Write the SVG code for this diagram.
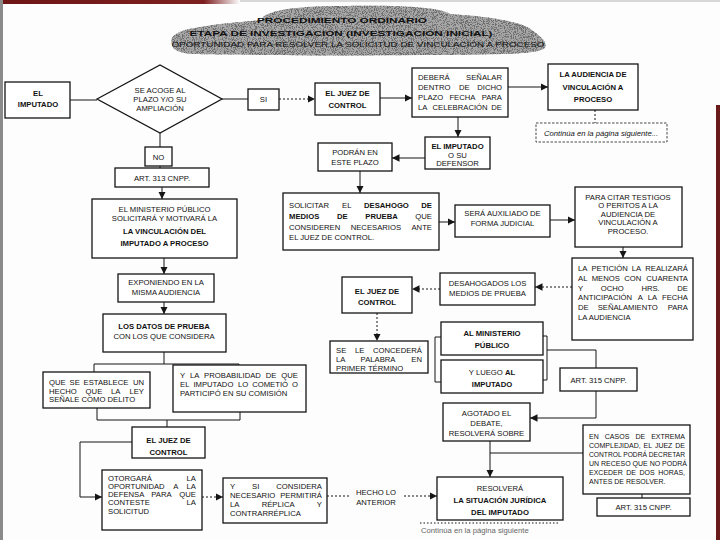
<svg xmlns="http://www.w3.org/2000/svg" width="720" height="540" viewBox="0 0 720 540">
<defs>
<style>
.b{fill:#fff;stroke:#151515;stroke-width:1.3}
.t{font-family:"Liberation Sans",Arial,sans-serif;font-size:7.7px;fill:#111}
.bd{font-weight:bold}
.c{text-anchor:middle}
.e{text-anchor:end}
.m{text-anchor:middle}
.ln{stroke:#151515;stroke-width:1;fill:none}
.ds{stroke-dasharray:2 2}
.ar{marker-end:url(#ah)}
.s7{font-size:7px}
</style>
<marker id="ah" viewBox="0 0 10 10" refX="10" refY="5" markerWidth="7.5" markerHeight="7.5" orient="auto" markerUnits="userSpaceOnUse"><path d="M0,0 L10,5 L0,10 z" fill="#151515"/></marker>
<linearGradient id="topred" x1="0" y1="0" x2="1" y2="0"><stop offset="0" stop-color="#6e1515"/><stop offset="0.85" stop-color="#7e2020"/><stop offset="1" stop-color="#7e2020" stop-opacity="0"/></linearGradient>
<clipPath id="blob"><path d="M172,44 C168,36 180,30 195,28 C215,24 240,22 262,20 C262,12 290,6 340,6 C400,5 440,7 450,14 C480,16 520,20 532,30 C540,36 548,42 545,48 C540,54 500,55 420,55 C330,56 240,55 190,54 C178,52 172,50 172,44 Z"/></clipPath>
<filter id="speck" x="0" y="0" width="100%" height="100%"><feTurbulence type="fractalNoise" baseFrequency="1.1" numOctaves="2" seed="4"/><feColorMatrix type="matrix" values="0 0 0 0 0.15  0 0 0 0 0.15  0 0 0 0 0.15  0 0 0 7 -3.3"/></filter>
</defs>
<rect x="0" y="0" width="720" height="540" fill="#fdfdfd"/>
<rect x="0" y="0" width="240" height="4" fill="url(#topred)"/>
<rect x="240" y="0" width="480" height="2" fill="#d8d8d8"/>
<rect x="0" y="0" width="3" height="540" fill="#8a8a8a"/>
<rect x="716" y="105" width="4" height="435" fill="#6b1a1a"/>

<g id="title">
<g clip-path="url(#blob)"><rect x="165" y="0" width="390" height="60" fill="#a8a8a8"/><rect x="165" y="0" width="390" height="60" filter="url(#speck)"/></g>
<text class="t bd c" x="342" y="23" font-size="10.5" textLength="170" lengthAdjust="spacingAndGlyphs">PROCEDIMIENTO ORDINARIO</text>
<text class="t bd c" x="341" y="36" font-size="10" textLength="303" lengthAdjust="spacingAndGlyphs">ETAPA DE INVESTIGACIÓN (INVESTIGACIÓN INICIAL)</text>
<text class="t c" x="358" y="47" font-size="9.3" textLength="373" lengthAdjust="spacingAndGlyphs">OPORTUNIDAD PARA RESOLVER LA SOLICITUD DE VINCULACIÓN A PROCESO</text>
</g>

<g id="connectors">
<path class="ln" d="M70,100 H97"/>
<path class="ln" d="M222,99 H248"/>
<path class="ln ds ar" d="M279,99 H315"/>
<path class="ln ar" d="M380,98 H412"/>
<path class="ln ar" d="M508,87 H548"/>
<path class="ln ds" d="M595,110 V123"/>
<path class="ln ar" d="M458,117 V137"/>
<path class="ln ar" d="M425,158 H392"/>
<path class="ln ar" d="M360,171 V193"/>
<path class="ln ar" d="M439,222 H455"/>
<path class="ln ar" d="M550,220 H575"/>
<path class="ln ar" d="M623,247 V258"/>
<path class="ln ds ar" d="M572,287 H535"/>
<path class="ln ds ar" d="M440,289 H412"/>
<path class="ln ds ar" d="M377,313 V341"/>
<path class="ln" d="M441,337 H435 V382 H441"/>
<path class="ln" d="M543,336 H547 V380 H543"/>
<path class="ln" d="M547,350 H596 V368"/>
<path class="ln ar" d="M596,391 V418 H530"/>
<path class="ln ar" d="M490,441 V477"/>
<path class="ln" d="M490,453 H583"/>
<path class="ln" d="M642,494 V498"/>
<path class="ln ds" d="M327,496 H350"/>
<path class="ln ds ar" d="M404,496 H437"/>
<path class="ln" d="M420,523 H560" stroke="#555" stroke-dasharray="1.5 2"/>
<path class="ln" d="M160,133 V147"/>
<path class="ln" d="M160,166 V168"/>
<path class="ln ar" d="M162,187 V199"/>
<path class="ln ar" d="M164,258 V274"/>
<path class="ln ar" d="M164,302 V314"/>
<path class="ln" d="M164,352 V364 M94,372 V364 H239 V366"/>
<path class="ln" d="M97,408 V420 H240 V412 M167,420 V427"/>
<path class="ln ar" d="M132,442 H80 V497 H102"/>
<path class="ln ds ar" d="M202,497 H223"/>
</g>

<g id="n_imputado"><rect class="b" x="5" y="82" width="65" height="36"/><text class="t bd c" x="38" y="96">EL</text><text class="t bd c" x="38" y="107">IMPUTADO</text></g>
<g id="n_acoge"><polygon class="b" points="97,99 160,65 222,99 160,133"/><text class="t c" x="160" y="93">SE ACOGE AL</text><text class="t c" x="160" y="102">PLAZO Y/O SU</text><text class="t c" x="160" y="111">AMPLIACIÓN</text></g>
<g id="n_si"><rect class="b" x="248" y="89" width="31" height="21"/><text class="t c" x="263.5" y="102">SI</text></g>
<g id="n_no"><rect class="b" x="145" y="147" width="27" height="19"/><text class="t c" x="158.5" y="159.5">NO</text></g>
<g id="n_art313"><rect class="b" x="115" y="168" width="94" height="19"/><text class="t c" x="162" y="180.5">ART. 313 CNPP.</text></g>
<g id="n_mp"><rect class="b" x="92" y="199" width="145" height="59"/><text class="t c" x="164.5" y="212">EL MINISTERIO PÚBLICO</text><text class="t c" x="164.5" y="221">SOLICITARÁ Y MOTIVARÁ LA</text><text class="t bd c" x="164.5" y="234" font-size="8">LA VINCULACIÓN DEL</text><text class="t bd c" x="164.5" y="246" font-size="8">IMPUTADO A PROCESO</text></g>
<g id="n_exponiendo"><rect class="b" x="118" y="274" width="96" height="28"/><text class="t c" x="166" y="285">EXPONIENDO EN LA</text><text class="t c" x="166" y="295">MISMA AUDIENCIA</text></g>
<g id="n_datos"><rect class="b" x="103" y="314" width="123" height="38"/><text class="t bd c" x="164" y="329" font-size="8">LOS DATOS DE PRUEBA</text><text class="t c" x="164" y="339">CON LOS QUE CONSIDERA</text></g>
<g id="n_hecho"><rect class="b" x="43" y="372" width="107" height="36"/>
<text class="t" y="385"><tspan x="49">QUE </tspan><tspan x="69.5">SE </tspan><tspan x="83.6">ESTABLECE </tspan><tspan x="144" class="e">UN</tspan></text>
<text class="t" y="393.5"><tspan x="49">HECHO </tspan><tspan x="85.6">QUE </tspan><tspan x="111.1">LA </tspan><tspan x="144" class="e">LEY</tspan></text>
<text class="t" x="49" y="402">SEÑALE COMO DELITO</text></g>
<g id="n_probabilidad"><rect class="b" x="173" y="365" width="133" height="47"/>
<text class="t" y="378"><tspan x="180">Y </tspan><tspan x="189.9">LA </tspan><tspan x="204.1">PROBABILIDAD </tspan><tspan x="265.8">DE </tspan><tspan x="298" class="e">QUE</tspan></text>
<text class="t" y="387"><tspan x="180">EL </tspan><tspan x="193.4">IMPUTADO </tspan><tspan x="238">LO </tspan><tspan x="252.2">COMETIÓ </tspan><tspan x="298" class="e">O</tspan></text>
<text class="t" x="180" y="396">PARTICIPÓ EN SU COMISIÓN</text></g>
<g id="n_juez3"><rect class="b" x="132" y="427" width="73" height="31"/><text class="t bd c" x="168.5" y="443">EL JUEZ DE</text><text class="t bd c" x="168.5" y="455">CONTROL</text></g>
<g id="n_otorgara"><rect class="b" x="102" y="470" width="100" height="60"/>
<text class="t" y="481"><tspan x="108">OTORGARÁ </tspan><tspan x="196" class="e">LA</tspan></text>
<text class="t" y="489"><tspan x="108">OPORTUNIDAD </tspan><tspan x="173.2">A </tspan><tspan x="196" class="e">LA</tspan></text>
<text class="t" y="497"><tspan x="108">DEFENSA </tspan><tspan x="151.3">PARA </tspan><tspan x="196" class="e">QUE</tspan></text>
<text class="t" y="505"><tspan x="108">CONTESTE </tspan><tspan x="196" class="e">LA</tspan></text>
<text class="t" x="108" y="514">SOLICITUD</text></g>
<g id="n_replica"><rect class="b" x="223" y="478" width="104" height="45"/>
<text class="t" y="489"><tspan x="230">Y </tspan><tspan x="252">SI </tspan><tspan x="322" class="e">CONSIDERA</tspan></text>
<text class="t" y="498"><tspan x="230">NECESARIO </tspan><tspan x="322" class="e">PERMITIRÁ</tspan></text>
<text class="t" y="507"><tspan x="230">LA </tspan><tspan x="261.7">RÉPLICA </tspan><tspan x="322" class="e">Y</tspan></text>
<text class="t" x="230" y="516">CONTRARRÉPLICA</text></g>
<g id="n_hecholo"><text class="t c" x="376" y="495">HECHO LO</text><text class="t c" x="376" y="505">ANTERIOR</text></g>

<g id="n_juez1"><rect class="b" x="315" y="83" width="65" height="32"/><text class="t bd c" x="347.5" y="96">EL JUEZ DE</text><text class="t bd c" x="347.5" y="108">CONTROL</text></g>
<g id="n_debera"><rect class="b" x="412" y="68" width="96" height="49"/>
<text class="t" y="80"><tspan x="418">DEBERÁ </tspan><tspan x="502" class="e">SEÑALAR</tspan></text>
<text class="t" y="90"><tspan x="418">DENTRO </tspan><tspan x="459" >DE </tspan><tspan x="502" class="e">DICHO</tspan></text>
<text class="t" y="100"><tspan x="418">PLAZO </tspan><tspan x="449.4">FECHA </tspan><tspan x="502" class="e">PARA</tspan></text>
<text class="t" y="110"><tspan x="418">LA </tspan><tspan x="432.5">CELEBRACIÓN </tspan><tspan x="502" class="e">DE</tspan></text></g>
<g id="n_audiencia"><rect class="b" x="548" y="64" width="90" height="46"/><text class="t bd c" x="593" y="77">LA AUDIENCIA DE</text><text class="t bd c" x="593" y="90">VINCULACIÓN A</text><text class="t bd c" x="593" y="102">PROCESO</text></g>
<g id="n_continua"><rect x="536" y="123" width="131" height="19" fill="#fff" stroke="#333" stroke-width="0.9" stroke-dasharray="2.5 1.5"/><text class="t" x="544" y="136" font-style="italic" font-size="7">Continúa en la página siguiente...</text></g>
<g id="n_defensor"><rect class="b" x="425" y="137" width="65" height="32"/><text class="t bd c" x="457.5" y="149">EL IMPUTADO</text><text class="t c" x="457.5" y="158">O SU</text><text class="t c" x="457.5" y="166">DEFENSOR</text></g>
<g id="n_podran"><rect class="b" x="318" y="143" width="74" height="28"/><text class="t c" x="355" y="155">PODRÁN EN</text><text class="t c" x="355" y="165">ESTE PLAZO</text></g>
<g id="n_solicitar"><rect class="b" x="283" y="193" width="156" height="57"/>
<text class="t" y="208"><tspan x="289">SOLICITAR </tspan><tspan x="342.1">EL </tspan><tspan x="364" class="bd">DESAHOGO </tspan><tspan x="432" class="bd e">DE</tspan></text>
<text class="t" y="219"><tspan x="289" class="bd">MEDIOS </tspan><tspan x="337" class="bd">DE </tspan><tspan x="365.3" class="bd">PRUEBA </tspan><tspan x="432" class="e">QUE</tspan></text>
<text class="t" y="230"><tspan x="289">CONSIDEREN </tspan><tspan x="350.7">NECESARIOS </tspan><tspan x="432" class="e">ANTE</tspan></text>
<text class="t" x="289" y="240">EL JUEZ DE CONTROL.</text></g>
<g id="n_auxiliado"><rect class="b" x="455" y="205" width="95" height="32"/><text class="t c" x="502.5" y="216">SERÁ AUXILIADO DE</text><text class="t c" x="502.5" y="226">FORMA JUDICIAL</text></g>
<g id="n_citar"><rect class="b" x="575" y="187" width="107" height="60"/><text class="t c" x="628" y="199.5">PARA CITAR TESTIGOS</text><text class="t c" x="628" y="208">O PERITOS A LA</text><text class="t c" x="628" y="216.5">AUDIENCIA DE</text><text class="t c" x="628" y="225">VINCULACIÓN A</text><text class="t c" x="628" y="234">PROCESO.</text></g>
<g id="n_peticion"><rect class="b" x="572" y="258" width="121" height="82"/>
<text class="t" y="271"><tspan x="578">LA </tspan><tspan x="591.4">PETICIÓN </tspan><tspan x="631.8">LA </tspan><tspan x="688" class="e">REALIZARÁ</tspan></text>
<text class="t" y="281"><tspan x="578">AL </tspan><tspan x="591.7">MENOS </tspan><tspan x="624.2">CON </tspan><tspan x="688" class="e">CUARENTA</tspan></text>
<text class="t" y="290.5"><tspan x="578">Y </tspan><tspan x="600.7">OCHO </tspan><tspan x="641.4">HRS. </tspan><tspan x="688" class="e">DE</tspan></text>
<text class="t" y="300"><tspan x="578">ANTICIPACIÓN </tspan><tspan x="637.7">A </tspan><tspan x="647.7">LA </tspan><tspan x="688" class="e">FECHA</tspan></text>
<text class="t" y="310"><tspan x="578">DE </tspan><tspan x="597.7">SEÑALAMIENTO </tspan><tspan x="688" class="e">PARA</tspan></text>
<text class="t" x="578" y="320">LA AUDIENCIA</text></g>
<g id="n_desahogados"><rect class="b" x="440" y="273" width="95" height="32"/><text class="t c" x="487.5" y="286">DESAHOGADOS LOS</text><text class="t c" x="487.5" y="296">MEDIOS DE PRUEBA</text></g>
<g id="n_juez2"><rect class="b" x="342" y="277" width="70" height="36"/><text class="t bd c" x="377" y="294">EL JUEZ DE</text><text class="t bd c" x="377" y="305">CONTROL</text></g>
<g id="n_palabra"><rect class="b" x="330" y="341" width="98" height="32"/>
<text class="t" y="353"><tspan x="336">SE </tspan><tspan x="354.9">LE </tspan><tspan x="422" class="e">CONCEDERÁ</tspan></text>
<text class="t" y="362"><tspan x="336">LA </tspan><tspan x="360.6">PALABRA </tspan><tspan x="422" class="e">EN</tspan></text>
<text class="t" x="336" y="371">PRIMER TÉRMINO</text></g>
<g id="n_almp"><rect class="b" x="441" y="322" width="102" height="33"/><text class="t bd c" x="492" y="336">AL MINISTERIO</text><text class="t bd c" x="492" y="348">PÚBLICO</text></g>
<g id="n_luego"><rect class="b" x="441" y="360" width="102" height="33"/><text class="t c" x="492" y="375">Y LUEGO <tspan class="bd">AL</tspan></text><text class="t bd c" x="492" y="387">IMPUTADO</text></g>
<g id="n_art315a"><rect class="b" x="560" y="368" width="77" height="23"/><text class="t c" x="598.5" y="383">ART. 315 CNPP.</text></g>
<g id="n_agotado"><rect class="b" x="443" y="403" width="87" height="38"/><text class="t c" x="486.5" y="415.5">AGOTADO EL</text><text class="t c" x="486.5" y="425.5">DEBATE,</text><text class="t c" x="486.5" y="435.5">RESOLVERÁ SOBRE</text></g>
<g id="n_receso"><rect class="b" x="583" y="425" width="107" height="69"/>
<text class="t s7" y="439"><tspan x="589">EN </tspan><tspan x="604.8">CASOS </tspan><tspan x="635.4">DE </tspan><tspan x="685" class="e">EXTREMA</tspan></text>
<text class="t s7" y="448"><tspan x="589">COMPLEJIDAD, </tspan><tspan x="643.5">EL </tspan><tspan x="654.9">JUEZ </tspan><tspan x="685" class="e">DE</tspan></text>
<text class="t s7" x="589" y="457" textLength="96" lengthAdjust="spacingAndGlyphs">CONTROL PODRÁ DECRETAR</text>
<text class="t s7" x="589" y="466">UN RECESO QUE NO PODRÁ</text>
<text class="t s7" y="475"><tspan x="589">EXCEDER </tspan><tspan x="626.3">DE </tspan><tspan x="639.5">DOS </tspan><tspan x="685" class="e">HORAS,</tspan></text>
<text class="t s7" x="589" y="484">ANTES DE RESOLVER.</text></g>
<g id="n_art315b"><rect class="b" x="597" y="498" width="93" height="18"/><text class="t c" x="643.5" y="510">ART. 315 CNPP.</text></g>
<g id="n_resolvera"><rect class="b" x="437" y="477" width="126" height="43"/><text class="t c" x="500" y="491">RESOLVERÁ</text><text class="t bd c" x="500" y="503" font-size="8">LA SITUACIÓN JURÍDICA</text><text class="t bd c" x="500" y="515" font-size="8">DEL IMPUTADO</text></g>
<text class="t" x="421" y="533" font-size="5.5" style="fill:#666">Continúa en la página siguiente</text>
</svg>
